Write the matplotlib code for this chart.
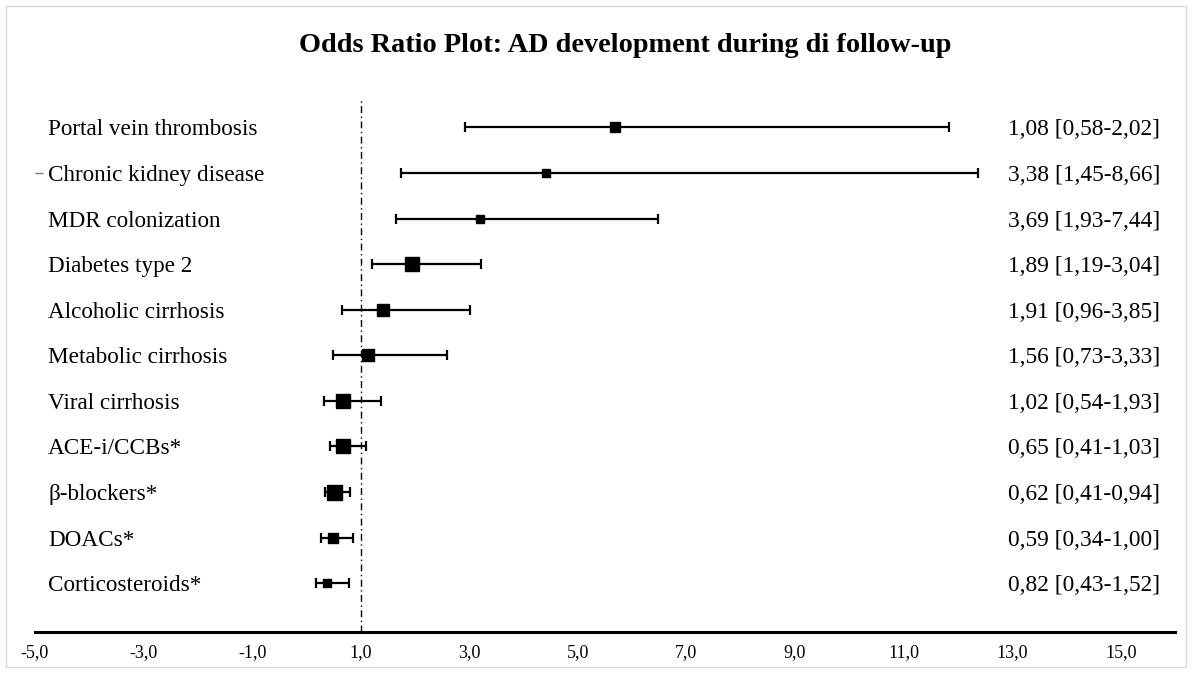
import matplotlib
matplotlib.use("Agg")
import matplotlib.pyplot as plt
from matplotlib.patches import Rectangle
from matplotlib.transforms import blended_transform_factory, IdentityTransform

# rows from top to bottom
factors = ["Portal vein thrombosis", "Chronic kidney disease", "MDR colonization",
           "Diabetes type 2", "Alcoholic cirrhosis", "Metabolic cirrhosis",
           "Viral cirrhosis", "ACE-i/CCBs*", "\u03b2-blockers*", "DOACs*",
           "Corticosteroids*"]
# positions as plotted in the picture
point = [5.68, 4.41, 3.20, 1.94, 1.41, 1.13, 0.67, 0.67, 0.51, 0.49, 0.38]
ci_low = [2.92, 1.74, 1.65, 1.21, 0.65, 0.49, 0.32, 0.43, 0.34, 0.27, 0.17]
ci_high = [11.83, 12.38, 6.47, 3.21, 3.01, 2.59, 1.37, 1.10, 0.80, 0.86, 0.78]
or_text = ["1,08 [0,58-2,02]", "3,38 [1,45-8,66]", "3,69 [1,93-7,44]",
           "1,89 [1,19-3,04]", "1,91 [0,96-3,85]", "1,56 [0,73-3,33]",
           "1,02 [0,54-1,93]", "0,65 [0,41-1,03]", "0,62 [0,41-0,94]",
           "0,59 [0,34-1,00]", "0,82 [0,43-1,52]"]
ticks = [-5, -3, -1, 1, 3, 5, 7, 9, 11, 13, 15]

# square size per row (study weight), in points
box_size = [6.7, 5.2, 6.3, 9.4, 8.6, 8.4, 9.4, 9.4, 10.8, 7.7, 6.3]

W, H = 1192, 673
fig = plt.figure(figsize=(W / 100, H / 100), dpi=100)
ax = fig.add_axes([35 / W, (H - 632) / H, (1175 - 35) / W, (632 - 100) / H])

serif = ["Liberation Serif", "DejaVu Serif"]
rows = list(range(len(factors)))
# x in pixels, y in data rows
row_tr = blended_transform_factory(IdentityTransform(), ax.transData)

for i in rows:
    ax.errorbar(point[i], i, xerr=[[point[i] - ci_low[i]], [ci_high[i] - point[i]]],
                fmt="s", color="black", ecolor="black", elinewidth=1.6,
                capsize=3.3, capthick=1.6, ms=box_size[i], zorder=3)
    ax.text(48, i, factors[i], transform=row_tr,
            fontsize=16.7, family=serif, va="center_baseline", ha="left")
    ax.text(1008, i, or_text[i], transform=row_tr,
            fontsize=16.8, family=serif, va="center_baseline", ha="left")

ax.axvline(1, color="black", lw=1, linestyle=(0, (5, 2.5, 1, 2.5)), zorder=1)

# little stray tick next to the second label
ax.plot([-4.93], [1], marker="_", color="#7f7f7f", ms=6, mew=1, clip_on=False)

ax.set_xlim(-5, 16)
ax.set_ylim(11.07, -0.6)
ax.set_xticks(ticks)
ax.set_xticklabels([("%.1f" % t).replace(".", ",") for t in ticks],
                   family=serif, fontsize=13)
ax.tick_params(axis="x", length=0, pad=9)
ax.set_yticks([])
for s in ["top", "right", "left"]:
    ax.spines[s].set_visible(False)
ax.spines["bottom"].set_linewidth(2.2)

fig.text(625 / W, 1 - 45 / H, "Odds Ratio Plot: AD development during di follow-up",
         family=serif, fontsize=20.3, fontweight="bold", ha="center", va="center")

fig.patches.append(Rectangle((6 / W, 6 / H), 1 - 12 / W, 1 - 12 / H,
                             transform=fig.transFigure, fill=False,
                             edgecolor="#d9d9d9", lw=1))

fig.savefig("out.png", dpi=100)
